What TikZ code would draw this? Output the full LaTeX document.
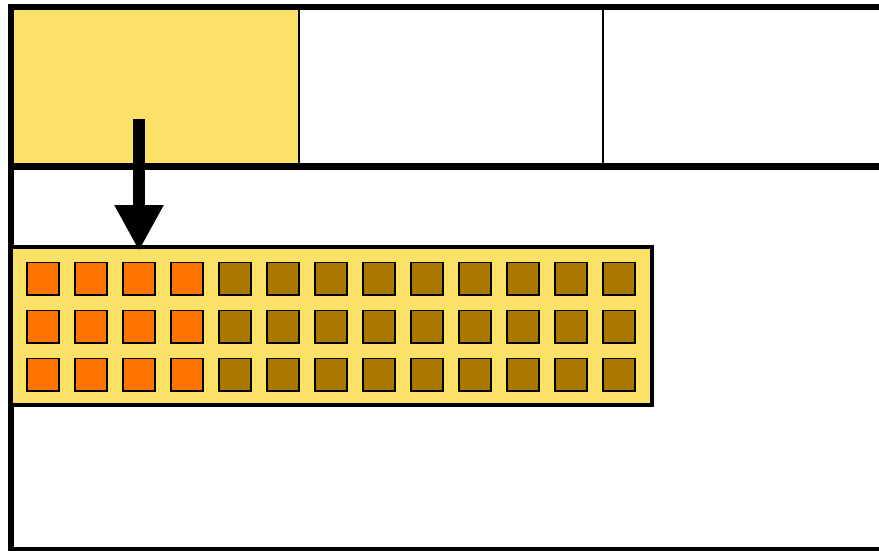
\documentclass[tikz,border=0pt]{standalone}
\usetikzlibrary{arrows.meta}
\definecolor{hlyellow}{RGB}{251,225,104}
\definecolor{sqorange}{RGB}{255,115,0}
\definecolor{sqbrown}{RGB}{170,119,0}
\tikzset{
  frameline/.style={line width=6pt, line join=miter},
  rowline/.style={line width=7pt},
  divline/.style={line width=2pt},
  arraybox/.style={draw, line width=4pt, fill=hlyellow, inner sep=0pt, outer sep=0pt,
    minimum width=641pt, minimum height=158pt, anchor=north west},
  cellsq/.style={draw, line width=1.6pt, inner sep=0pt, outer sep=0pt, minimum size=32.4pt},
  fastsq/.style={cellsq, fill=sqorange},
  slowsq/.style={cellsq, fill=sqbrown},
  bigarrow/.style={line width=12pt, -{Triangle[width=46pt,length=46pt]}}
}
\begin{document}
\begin{tikzpicture}[x=1pt,y=-1pt]
\useasboundingbox (0,0) rectangle (879,551);
\clip (0,0) rectangle (879,551);
% highlighted top-left cell
\node[fill=hlyellow, inner sep=0pt, outer sep=0pt, minimum width=288pt, minimum height=159.5pt, anchor=north west] (topcell) at (11,7) {};
% dividers of the top row
\draw[divline] (299,7) -- (299,166.5);
\draw[divline] (603,7) -- (603,166.5);
\draw[rowline] (8,166.5) -- (900,166.5);
% outer frame
\draw[frameline] (900,7) -| (11,550) -- (900,550);
% array box
\node[arraybox] (array) at (11,247) {};
\foreach \c in {0,...,12}{
  \foreach \r in {0,1,2}{
    \ifnum\c<4
      \node[fastsq] (sq-\r-\c) at (43+48*\c, 278.5+48*\r) {};
    \else
      \node[slowsq] (sq-\r-\c) at (43+48*\c, 278.5+48*\r) {};
    \fi
  }
}
% arrow
\coordinate (arrowstart) at (139,119);
\draw[bigarrow] (arrowstart) -- ([yshift=-4pt]arrowstart |- array.north);
\end{tikzpicture}
\end{document}
